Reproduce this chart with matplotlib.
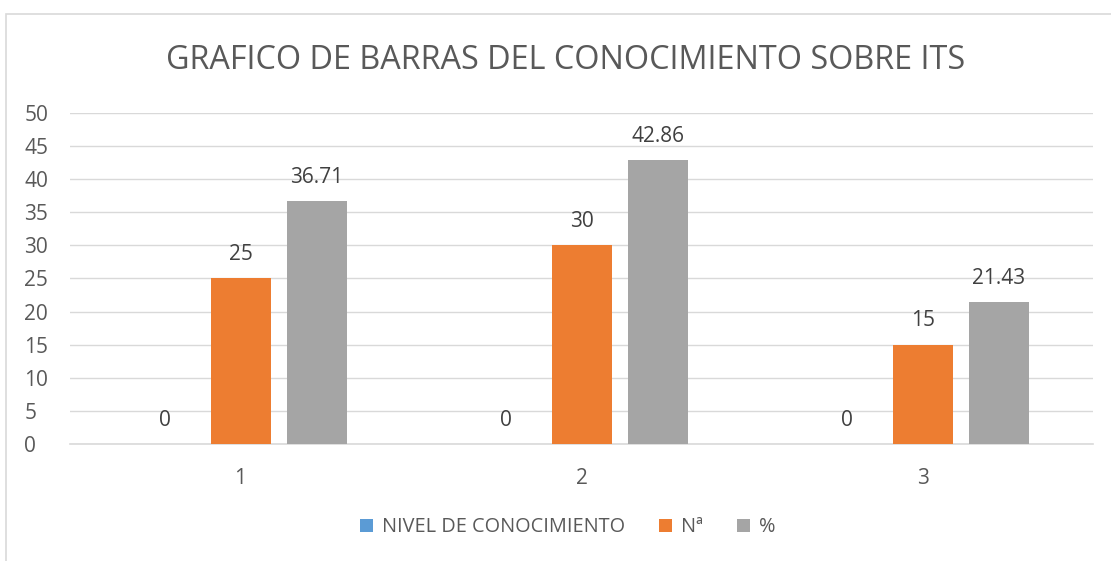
import matplotlib.pyplot as plt
import numpy as np
from matplotlib.patches import Rectangle

plt.rcParams['font.family'] = ['Open Sans', 'DejaVu Sans']

categories = ['1', '2', '3']
nivel = [0, 0, 0]
numero = [25, 30, 15]
porcentaje = [36.71, 42.86, 21.43]
series_names = ['NIVEL DE CONOCIMIENTO', 'Nª', '%']
colors = ['#5b9bd5', '#ed7d31', '#a5a5a5']

fig = plt.figure(figsize=(11.11, 5.61), dpi=100)
ax = fig.add_axes([0.063, 0.2086, 0.921, 0.59])

# marco del gráfico
fig.patches.append(Rectangle((6 / 1111, -0.1), 1.2, 1 - 14 / 561 + 0.1,
                             transform=fig.transFigure, fill=False,
                             edgecolor='#d9d9d9', linewidth=1.2))

x = np.arange(1, len(categories) + 1)
w = 0.176
offs = [-0.223, 0, 0.223]
txt = '#404040'
for vals, name, c, o in zip([nivel, numero, porcentaje], series_names, colors, offs):
    ax.bar(x + o, vals, width=w, color=c, label=name, zorder=3)
    for xi, v in zip(x + o, vals):
        ax.text(xi, v + 2.0, f'{v:g}', ha='center', va='bottom', fontsize=15, color=txt)

ax.set_xlim(0.5, 3.5)
ax.set_ylim(0, 50)
ax.set_yticks(np.arange(0, 51, 5))
ax.set_xticks(x)
ax.set_xticklabels(categories)
ax.grid(axis='y', color='#d9d9d9', linewidth=1, zorder=0)
for s in ['top', 'right', 'left']:
    ax.spines[s].set_visible(False)
ax.spines['bottom'].set_color('#d9d9d9')
ax.spines['bottom'].set_linewidth(1.2)
ax.tick_params(length=0, labelsize=15, colors='#595959')
ax.tick_params(axis='x', pad=17)
for lbl in ax.get_yticklabels():
    lbl.set_horizontalalignment('left')
ax.yaxis.set_tick_params(pad=33)

fig.text(0.509, 0.893, 'GRAFICO DE BARRAS DEL CONOCIMIENTO SOBRE ITS',
         ha='center', va='center', fontsize=23.3, color='#595959')

fig.legend(loc='center', bbox_to_anchor=(0.511, 0.06), ncol=3, frameon=False,
           fontsize=14.3, labelcolor='#595959', handlelength=0.65, handleheight=0.65,
           handletextpad=0.45, columnspacing=1.7)

plt.savefig('out.png', dpi=100)
